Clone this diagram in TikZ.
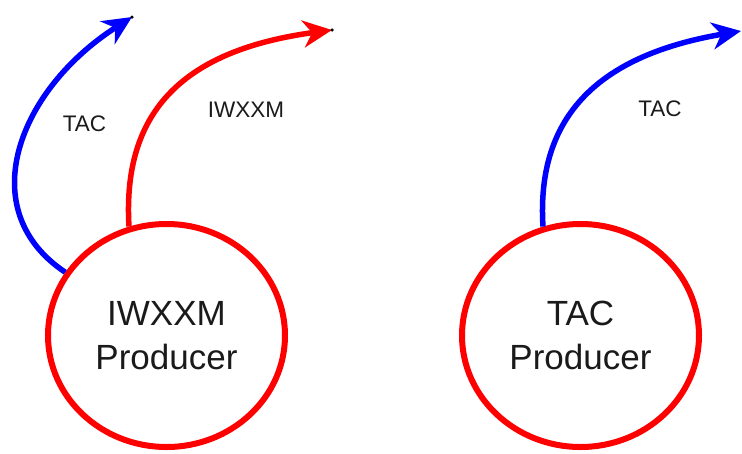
\documentclass[tikz,border=0pt]{standalone}
\usepackage{fontspec}
\setmainfont{Liberation Sans}
\usetikzlibrary{arrows.meta,shapes.geometric}
\definecolor{gred}{HTML}{FF0000}
\definecolor{gblue}{HTML}{0000FF}
\definecolor{gtext}{HTML}{1A1A1A}
\begin{document}
\begin{tikzpicture}[x=1pt,y=-1pt,
  producer/.style={ellipse, draw=gred, line width=6pt, minimum width=237pt, minimum height=223pt,
    inner sep=0pt, align=center, font=\fontsize{35}{44}\selectfont, text=gtext},
  flow/.style={line width=5.5pt, -{Stealth[length=29pt,width=27pt,inset=9pt]}},
  lbl/.style={font=\fontsize{22.5}{27}\selectfont, text=gtext, inner sep=0pt},
  tipdot/.style={circle, fill=black, inner sep=0pt, minimum size=3.5pt}]
\useasboundingbox (0,0) rectangle (742,453);
\node[producer] (L) at (166.5,335.5) {IWXXM\\Producer};
\node[producer] (R) at (580.5,335.5) {TAC\\Producer};
\coordinate (t1) at (132,17);
\coordinate (t2) at (332,30);
\coordinate (t3) at (741,31);
\draw[flow, gblue] (L.148) .. controls (-28,210) and (18,90) .. (t1);
\draw[flow, gred] (L.109) .. controls (122,110) and (185,50) .. (t2);
\draw[flow, gblue] (R.109) .. controls (536,115) and (600,55) .. (t3);
\node[tipdot] (d1) at (t1) {};
\node[tipdot] (d2) at (t2) {};
\node[lbl] (lt1) at (84.5,123.5) {TAC};
\node[lbl] (lt2) at (246,110) {IWXXM};
\node[lbl] (lt3) at (660,109) {TAC};
\end{tikzpicture}
\end{document}
